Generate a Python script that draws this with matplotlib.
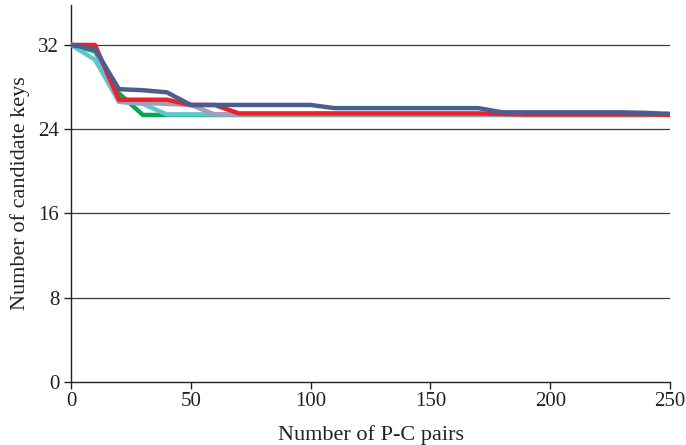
import matplotlib
matplotlib.use("Agg")
import matplotlib.pyplot as plt

x = [0, 10, 20, 30, 40, 50, 60, 70, 80, 90, 100, 110, 120, 130, 140, 150, 160, 170, 180, 190, 200, 210, 220, 230, 240, 250]

green = [32, 31.4, 27.4, 25.35, 25.35, 25.35, 25.35, 25.35, 25.35, 25.35, 25.35, 25.35, 25.35, 25.35, 25.35, 25.35, 25.35, 25.35, 25.35, 25.35, 25.35, 25.35, 25.35, 25.35, 25.35, 25.45]
cyan = [32, 30.6, 26.6, 26.4, 25.4, 25.4, 25.4, 25.4, 25.4, 25.4, 25.4, 25.4, 25.4, 25.4, 25.4, 25.4, 25.4, 25.4, 25.4, 25.4, 25.4, 25.4, 25.4, 25.4, 25.4, 25.4]
lavender = [32, 31.7, 26.6, 26.5, 26.4, 26.3, 25.4, 25.4, 25.4, 25.4, 25.4, 25.4, 25.4, 25.4, 25.4, 25.4, 25.4, 25.4, 25.4, 25.4, 25.4, 25.4, 25.4, 25.4, 25.4, 25.4]
red = [32, 32, 26.8, 26.8, 26.8, 26.3, 26.3, 25.5, 25.5, 25.5, 25.5, 25.5, 25.5, 25.5, 25.5, 25.5, 25.5, 25.5, 25.45, 25.4, 25.4, 25.4, 25.4, 25.4, 25.4, 25.35]
blue = [32, 31.6, 27.8, 27.7, 27.5, 26.3, 26.3, 26.3, 26.3, 26.3, 26.3, 26.0, 26.0, 26.0, 26.0, 26.0, 26.0, 26.0, 25.6, 25.6, 25.6, 25.6, 25.6, 25.6, 25.55, 25.45]

yticks = [0, 8, 16, 24, 32]
xticks = [0, 50, 100, 150, 200, 250]

plt.rcParams['font.family'] = ['Liberation Serif', 'DejaVu Serif']

fig = plt.figure(figsize=(6.86, 4.45), dpi=100)
ax = fig.add_axes([0.1035, 0.1416, 0.8732, 0.8474])

for y in yticks[1:]:
    ax.axhline(y, color='#3a3a3a', lw=0.9, zorder=1)

lw = 3.2
ax.plot(x, green, color='#0aa64f', lw=lw, zorder=2)
ax.plot(x, cyan, color='#5cc6cf', lw=lw, zorder=3)
ax.plot(x, lavender, color='#a99bc0', lw=lw, zorder=4)
ax.plot(x, red, color='#e8232a', lw=lw, zorder=5)
ax.plot(x, blue, color='#4a5f8f', lw=lw, zorder=6)

ax.set_xlim(0, 250)
ax.set_ylim(0, 35.8)
ax.set_xticks(xticks)
ax.set_yticks(yticks)
ax.spines['top'].set_visible(False)
ax.spines['right'].set_visible(False)
for s in ['left', 'bottom']:
    ax.spines[s].set_color('#222222')
    ax.spines[s].set_linewidth(1.0)
ax.tick_params(direction='out', length=5, width=1, colors='#222222', labelsize=15, labelcolor='#222222')
ax.tick_params(axis='x', pad=2)
ax.set_xlabel('Number of P-C pairs', fontsize=16, color='#222222', labelpad=10)
ax.set_ylabel('Number of candidate keys', fontsize=16, color='#222222', labelpad=6)

fig.savefig('out.png', dpi=100)
